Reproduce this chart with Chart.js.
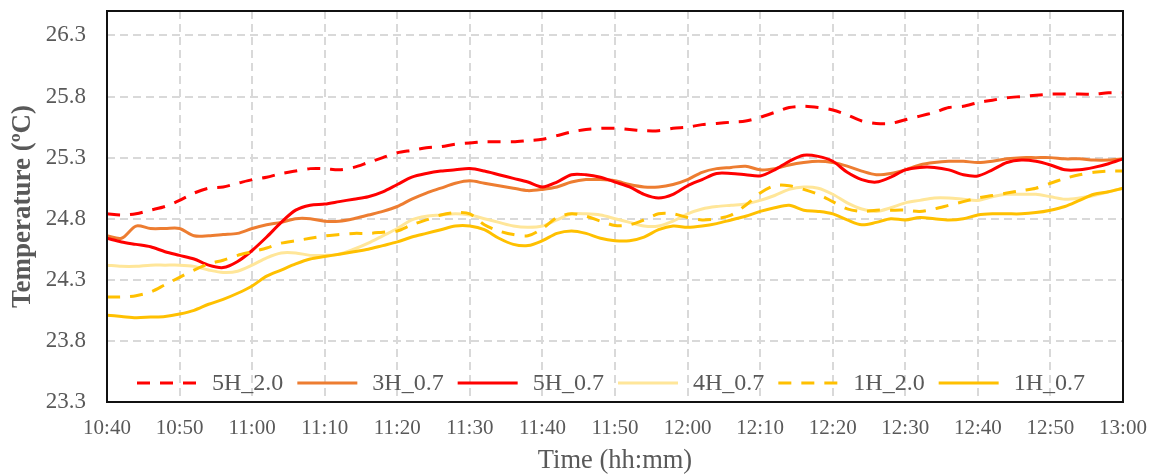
<!DOCTYPE html>
<html>
<head>
<meta charset="utf-8">
<script src="https://cdn.jsdelivr.net/npm/chart.js@4.4.1/dist/chart.umd.min.js"></script>
<style>
html,body{margin:0;padding:0;background:#ffffff;}
#wrap{width:1155px;height:474px;position:relative;}
</style>
</head>
<body>
<div id="wrap"><canvas id="c" width="1155" height="474"></canvas></div>
<script>
// ---- data (minutes after 10:40) ----
const minutes = [0,2,4,6,8,10,12,14,16,18,20,22,24,26,28,30,32,34,36,38,40,42,44,46,48,50,52,54,56,58,60,62,64,66,68,70,72,74,76,78,80,82,84,86,88,90,92,94,96,98,100,102,104,106,108,110,112,114,116,118,120,122,124,126,128,130,132,134,136,138,140];
const xTickValues = [0,10,20,30,40,50,60,70,80,90,100,110,120,130,140];
const xTickLabels = ['10:40','10:50','11:00','11:10','11:20','11:30','11:40','11:50','12:00','12:10','12:20','12:30','12:40','12:50','13:00'];
const yTickValues = [23.3,23.8,24.3,24.8,25.3,25.8,26.3];
const seriesNames = ['5H_2.0','3H_0.7','5H_0.7','4H_0.7','1H_2.0','1H_0.7'];

const s5H_20 = [24.84,24.83,24.84,24.87,24.90,24.95,25.01,25.05,25.06,25.09,
  25.12,25.14,25.17,25.19,25.21,25.21,25.20,25.22,25.26,25.30,
  25.34,25.36,25.38,25.39,25.41,25.42,25.43,25.43,25.43,25.44,
  25.45,25.48,25.51,25.53,25.54,25.54,25.53,25.52,25.52,25.54,
  25.55,25.57,25.58,25.59,25.60,25.63,25.67,25.71,25.72,25.71,
  25.69,25.65,25.60,25.58,25.58,25.61,25.64,25.67,25.71,25.72,
  25.75,25.77,25.79,25.80,25.81,25.82,25.82,25.82,25.82,25.83,
  25.83];
const s3H_07 = [24.66,24.64,24.74,24.72,24.72,24.72,24.66,24.66,24.67,24.68,
  24.72,24.75,24.77,24.80,24.80,24.78,24.78,24.80,24.83,24.86,
  24.90,24.96,25.01,25.05,25.09,25.11,25.09,25.07,25.05,25.03,
  25.04,25.06,25.10,25.12,25.12,25.11,25.08,25.06,25.06,25.08,
  25.12,25.18,25.21,25.22,25.23,25.20,25.21,25.24,25.26,25.27,
  25.26,25.23,25.19,25.16,25.17,25.20,25.24,25.26,25.27,25.27,
  25.26,25.27,25.29,25.30,25.30,25.30,25.29,25.29,25.28,25.28,
  25.29];
const s5H_07 = [24.64,24.61,24.59,24.57,24.53,24.50,24.47,24.42,24.40,24.45,
  24.54,24.65,24.77,24.87,24.91,24.92,24.94,24.96,24.98,25.02,
  25.08,25.14,25.17,25.19,25.20,25.21,25.19,25.16,25.13,25.10,
  25.06,25.10,25.16,25.16,25.14,25.10,25.06,25.00,24.97,25.00,
  25.07,25.12,25.17,25.17,25.16,25.15,25.20,25.27,25.32,25.31,
  25.27,25.18,25.12,25.10,25.14,25.20,25.22,25.22,25.20,25.16,
  25.15,25.20,25.26,25.28,25.27,25.24,25.20,25.20,25.22,25.25,
  25.29];
const s4H_07 = [24.42,24.41,24.41,24.42,24.42,24.42,24.41,24.38,24.36,24.37,
  24.42,24.48,24.52,24.52,24.50,24.50,24.51,24.55,24.60,24.66,
  24.72,24.79,24.82,24.83,24.84,24.83,24.80,24.77,24.74,24.73,
  24.74,24.79,24.84,24.84,24.83,24.80,24.77,24.74,24.74,24.78,
  24.84,24.88,24.90,24.91,24.92,24.95,24.99,25.04,25.06,25.05,
  25.00,24.93,24.88,24.86,24.89,24.93,24.95,24.97,24.97,24.96,
  24.95,24.98,25.00,25.00,25.00,24.98,24.96,24.97,24.99,25.02,
  25.05];
const s1H_20 = [24.16,24.16,24.17,24.20,24.26,24.32,24.38,24.43,24.46,24.50,
  24.53,24.56,24.60,24.62,24.64,24.66,24.67,24.68,24.68,24.69,
  24.70,24.75,24.79,24.83,24.85,24.84,24.75,24.70,24.67,24.66,
  24.72,24.81,24.84,24.82,24.78,24.745,24.75,24.79,24.84,24.84,
  24.81,24.79,24.80,24.83,24.91,25.01,25.07,25.07,25.04,25.00,
  24.94,24.88,24.86,24.87,24.87,24.87,24.86,24.88,24.91,24.94,
  24.97,24.99,25.01,25.03,25.05,25.09,25.13,25.16,25.18,25.19,
  25.19];
const s1H_07 = [24.01,24.00,23.99,23.995,24.00,24.02,24.05,24.10,24.14,24.19,
  24.25,24.33,24.38,24.43,24.47,24.49,24.51,24.53,24.55,24.58,
  24.61,24.65,24.68,24.71,24.74,24.74,24.71,24.64,24.59,24.58,
  24.62,24.68,24.70,24.68,24.64,24.62,24.62,24.65,24.71,24.74,
  24.73,24.74,24.76,24.79,24.82,24.86,24.89,24.91,24.87,24.86,
  24.84,24.79,24.75,24.77,24.80,24.79,24.81,24.80,24.79,24.80,
  24.83,24.84,24.84,24.84,24.85,24.87,24.90,24.95,25.00,25.02,
  25.05];

// ---- styles ----
const seriesValues = [s5H_20, s3H_07, s5H_07, s4H_07, s1H_20, s1H_07];
const seriesColors = ['#FF0000','#ED7D31','#FF0000','#FFE699','#FFC000','#FFC000'];
const seriesDashed = [true,false,false,false,true,false];
const DASH = [13,10];
const TEXT_COLOR = '#595959';
const FONT = "'Liberation Serif','Times New Roman',serif";

Chart.defaults.font.family = FONT;
Chart.defaults.color = TEXT_COLOR;

const datasets = seriesNames.map((name, i) => ({
  label: name,
  data: minutes.map((m, k) => ({x: m, y: seriesValues[i][k]})),
  borderColor: seriesColors[i],
  backgroundColor: seriesColors[i],
  borderWidth: 3,
  borderDash: seriesDashed[i] ? DASH : [],
  pointRadius: 0,
  pointHoverRadius: 0,
  tension: 0.3,
  fill: false,
  order: -i
}));

const frame = {
  id: 'frame',
  afterDraw(chart) {
    const {ctx, chartArea: a} = chart;
    ctx.save();
    ctx.strokeStyle = '#111111';
    ctx.lineWidth = 2;
    ctx.setLineDash([]);
    ctx.strokeRect(a.left, a.top, a.right - a.left, a.bottom - a.top);
    ctx.restore();
  }
};

const insideLegend = {
  id: 'insideLegend',
  afterDraw(chart) {
    const {ctx, chartArea: a} = chart;
    ctx.save();
    ctx.font = "24px " + FONT;
    ctx.textBaseline = 'middle';
    ctx.textAlign = 'left';
    ctx.fillStyle = TEXT_COLOR;
    let x = a.left + 30;
    const y = a.bottom - 19;
    chart.data.datasets.forEach(ds => {
      ctx.strokeStyle = ds.borderColor;
      ctx.lineWidth = 3;
      ctx.setLineDash(ds.borderDash || []);
      ctx.beginPath();
      ctx.moveTo(x, y);
      ctx.lineTo(x + 60, y);
      ctx.stroke();
      ctx.setLineDash([]);
      x += 60 + 15;
      ctx.fillText(ds.label, x, y + 1);
      x += ctx.measureText(ds.label).width + 14;
    });
    ctx.restore();
  }
};

const noPad = s => { s.paddingTop = 0; s.paddingBottom = 0; s.paddingLeft = 0; s.paddingRight = 0; };

new Chart(document.getElementById('c'), {
  type: 'line',
  data: { datasets },
  options: {
    responsive: false,
    animation: false,
    devicePixelRatio: 1,
    layout: { padding: { top: 11, right: 32, left: 0, bottom: 0 } },
    plugins: {
      legend: { display: false },
      tooltip: { enabled: false }
    },
    scales: {
      x: {
        type: 'linear',
        min: 0,
        max: 140,
        afterBuildTicks: s => { s.ticks = xTickValues.map(v => ({value: v})); },
        afterFit: s => { s.height = 72; noPad(s); },
        ticks: {
          autoSkip: false,
          maxRotation: 0,
          padding: 14,
          font: { size: 21 },
          color: TEXT_COLOR,
          callback: (v) => xTickLabels[xTickValues.indexOf(v)]
        },
        grid: { color: '#D9D9D9', lineWidth: 2, drawTicks: false },
        border: { display: false, dash: [8,5] },
        title: {
          display: true,
          text: 'Time (hh:mm)',
          color: TEXT_COLOR,
          font: { size: 26.5, lineHeight: 1 },
          padding: { top: 0, bottom: 0 }
        }
      },
      y: {
        min: 23.3,
        max: 26.5,
        afterBuildTicks: s => { s.ticks = yTickValues.map(v => ({value: v})); },
        afterFit: s => { s.width = 107; noPad(s); },
        ticks: {
          padding: 21,
          font: { size: 23 },
          color: TEXT_COLOR,
          callback: v => Number(v).toFixed(1)
        },
        grid: { color: '#D9D9D9', lineWidth: 2, drawTicks: false },
        border: { display: false, dash: [8,5] },
        title: {
          display: true,
          text: 'Temperature (ºC)',
          color: TEXT_COLOR,
          font: { size: 27, weight: 'bold', lineHeight: 1 },
          padding: { top: 10, bottom: 0 }
        }
      }
    }
  },
  plugins: [frame, insideLegend]
});
</script>
</body>
</html>
